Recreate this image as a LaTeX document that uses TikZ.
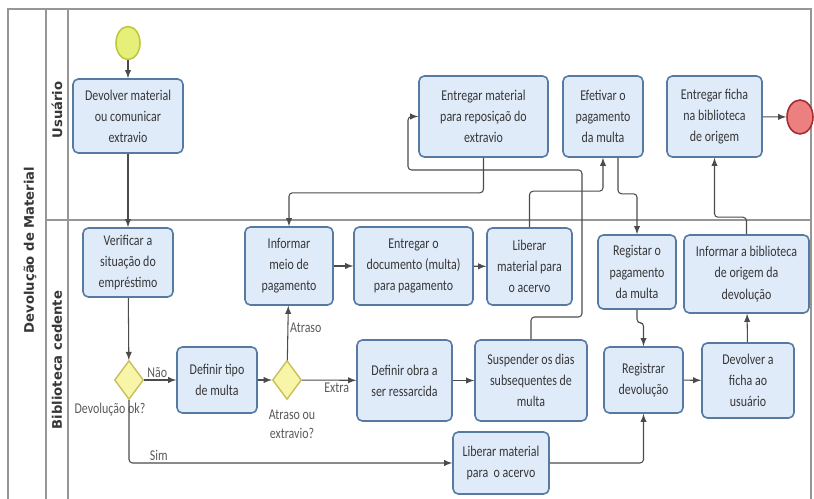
\documentclass[tikz,border=0pt]{standalone}
\usepackage{fontspec}
\newfontfamily\boxfont[FakeStretch=0.8]{Carlito}
\newfontfamily\lanefont{DejaVu Sans}
\usetikzlibrary{arrows, shapes.geometric}

\definecolor{taskfill}{RGB}{224,235,250}
\definecolor{taskline}{RGB}{86,122,162}
\definecolor{gatefill}{RGB}{248,245,168}
\definecolor{gateline}{RGB}{200,192,92}
\definecolor{flowc}{RGB}{75,75,75}
\definecolor{lanec}{RGB}{150,150,150}
\definecolor{txt}{RGB}{55,55,55}
\definecolor{lblc}{RGB}{90,90,90}

\begin{document}
\begin{tikzpicture}[x=0.02cm, y=-0.02cm,
    task/.style={draw=taskline, line width=0.9pt, fill=taskfill, rounded corners=3pt,
      align=center, inner sep=1pt, text=txt, font=\boxfont\fontsize{8.5}{12}\selectfont},
    gate/.style={diamond, draw=gateline, fill=gatefill, line width=0.8pt,
      minimum width=0.58cm, minimum height=0.78cm, inner sep=0pt},
    flow/.style={->, >=latex, draw=flowc, line width=0.6pt, rounded corners=2pt},
    lbl/.style={text=lblc, font=\boxfont\fontsize{8.5}{11}\selectfont, align=center, inner sep=1pt},
    lane/.style={draw=lanec, line width=0.8pt},
    lanetxt/.style={rotate=90, text=txt, font=\lanefont\bfseries\fontsize{7.5}{9}\selectfont}]

      \useasboundingbox (0,0) rectangle (814,499);

      % pool and lanes
      \draw[lane] (8,499) -- (8,9) -- (811,9) -- (811,499);
      \draw[lane] (46,9) -- (46,499);
      \draw[lane] (68,9) -- (68,499);
      \draw[lane] (46,220) -- (811,220);

      \node[lanetxt] (pool) at (30,250) {Devolução de Material};
      \node[lanetxt] (usuario) at (57,110) {Usuário};
      \node[lanetxt] (biblio) at (57,360) {Biblioteca cedente};

      % Usuario
      \node[ellipse, draw={rgb,255:red,190;green,200;blue,60}, line width=0.9pt,
        fill={rgb,255:red,230;green,240;blue,120}, minimum width=0.48cm,
        minimum height=0.66cm, inner sep=0pt] (start) at (128,43) {};
      \node[task, minimum width=2.2cm, minimum height=1.48cm] (devolver) at (128,116)
        {Devolver material\\ou comunicar\\extravio};
      \node[task, minimum width=2.58cm, minimum height=1.62cm] (entmat) at (483.5,116.5)
        {Entregar material\\para reposiçaõ do\\extravio};
      \node[task, minimum width=1.6cm, minimum height=1.62cm] (efetivar) at (603,116.5)
        {Efetivar o\\pagamento\\da multa};
      \node[task, minimum width=1.9cm, minimum height=1.62cm] (entficha) at (714.5,116.5)
        {Entregar ficha\\na biblioteca\\de origem};
      \node[ellipse, draw={rgb,255:red,165;green,45;blue,45}, line width=0.9pt,
        fill={rgb,255:red,236;green,128;blue,128}, minimum width=0.52cm,
        minimum height=0.68cm, inner sep=0pt] (fim) at (800,117) {};

      % Biblioteca cedente
      \node[task, minimum width=1.8cm, minimum height=1.38cm] (verificar) at (128,262.5)
        {Verificar a\\situação do\\empréstimo};
      \node[task, minimum width=1.76cm, minimum height=1.56cm] (infmeio) at (289,266)
        {Informar\\meio de\\pagamento};
      \node[task, minimum width=2.38cm, minimum height=1.56cm] (entdoc) at (413.5,266)
        {Entregar o\\documento (multa)\\para pagamento};
      \node[task, minimum width=1.7cm, minimum height=1.54cm] (libacervo) at (529.5,266.5)
        {Liberar\\material para\\o acervo};
      \node[task, minimum width=1.56cm, minimum height=1.48cm] (regpag) at (637,272)
        {Registar o\\pagamento\\da multa};
      \node[task, minimum width=2.5cm, minimum height=1.56cm] (infbib) at (746.5,274)
        {Informar a biblioteca\\de origem da\\devolução};

      \node[gate] (dec1) at (129,380) {};
      \node[task, minimum width=1.6cm, minimum height=1.32cm] (tipomulta) at (217,380)
        {Definir tipo\\de multa};
      \node[gate] (dec2) at (287,380) {};
      \node[task, minimum width=1.9cm, minimum height=1.62cm] (defobra) at (404.5,380.5)
        {Definir obra a\\ser ressarcida};
      \node[task, minimum width=2.24cm, minimum height=1.62cm] (suspender) at (531,380.5)
        {Suspender os dias\\subsequentes de\\multa};
      \node[task, minimum width=1.58cm, minimum height=1.32cm] (regdev) at (643.5,380)
        {Registrar\\devolução};
      \node[task, minimum width=1.84cm, minimum height=1.5cm] (devficha) at (748,380.5)
        {Devolver a\\ficha ao\\usuário};
      \node[task, minimum width=1.92cm, minimum height=1.24cm] (libsim) at (501,463)
        {Liberar material\\para~~o acervo};

      \node[lbl] (dec1txt) at (110,410) {Devolução ok?};
      \node[lbl] (dec2txt) at (292,424) {Atraso ou\\extravio?};

      % fluxos
      \draw[flow] (start) -- (devolver);
      \draw[flow] (devolver) -- (verificar);
      \draw[flow] (verificar) -- (dec1);
      \draw[flow] (dec1) -- node[lbl, pos=0.41, above] {Não} (tipomulta);
      \draw[flow] (dec1.south) |- node[lbl, pos=0.546, above] {Sim} (libsim.west);
      \draw[flow] (tipomulta) -- (dec2);
      \draw[flow] (dec2) -- node[lbl, pos=0.6, right] {Atraso} (infmeio);
      \draw[flow] (dec2) -- node[lbl, pos=0.64, below] {Extra} (defobra);
      \draw[flow] (infmeio) -- (entdoc);
      \draw[flow] (entdoc) -- (libacervo);
      \draw[flow] (defobra) -- (suspender);
      \draw[flow] (libsim.east) -| (regdev.south);
      \draw[flow] (regdev) -- (devficha);
      \draw[flow] (devficha) -- (infbib);
      \draw[flow] (regpag.south) -- ++(0,13) -| (regdev.north);

      \draw[flow] (suspender.north) |- (582,317) |- (408,170) |- (entmat.west);
      \draw[flow] (entmat.south) -- ++(0,35) -| (infmeio.north);
      \draw[flow] (libacervo.north) -- ++(0,-36) -| (efetivar.south);
      \draw[flow] ([xshift=0.3cm]efetivar.south) -- ++(0,36) -| (regpag.north);
      \draw[flow] (infbib.north) -- ++(0,-17) -| (entficha.south);
      \draw[flow] (entficha) -- (fim);

      \end{tikzpicture}
\end{document}
